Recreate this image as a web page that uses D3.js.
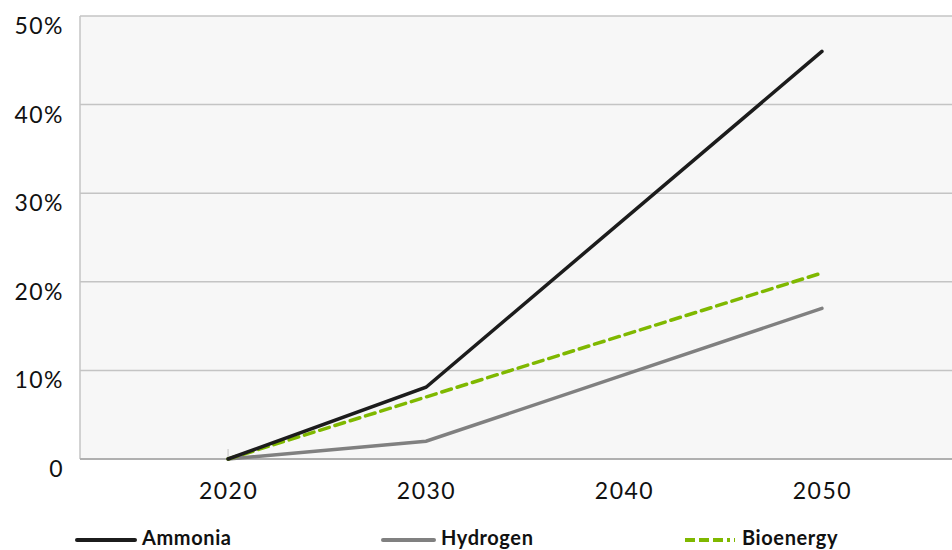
<!DOCTYPE html>
<html><head><meta charset="utf-8">
<script src="https://cdn.jsdelivr.net/npm/d3@7"></script>
<style>body{margin:0;background:#fff;}svg{display:block;}</style>
</head><body><svg id="c" width="952" height="550"></svg>
<script>
const years = [2020, 2030, 2050];
const ammonia = [0, 8.1, 46];
const hydrogen = [0, 2, 17];
const bioenergy = [0, 7, 21];
const xTicks = [2020, 2030, 2040, 2050];
const yTicks = [0, 10, 20, 30, 40, 50];
const seriesNames = ["Ammonia", "Hydrogen", "Bioenergy"];

const svg = d3.select("#c");
const L = 80, R = 952, T = 16, B = 459;
const x = d3.scaleLinear().domain([2012.52, 2056.57]).range([L, R]);
const y = d3.scaleLinear().domain([0, 50]).range([B, T]);
const FONT = "Lato, sans-serif";

svg.append("rect").attr("x", L).attr("y", T).attr("width", R - L).attr("height", B - T).attr("fill", "#f7f7f7");

svg.append("g").selectAll("line").data(yTicks.filter(d => d > 0)).join("line")
  .attr("x1", L).attr("x2", R).attr("y1", d => y(d)).attr("y2", d => y(d))
  .attr("stroke", "#c4c4c4").attr("stroke-width", 1.5);
svg.append("line").attr("x1", L).attr("x2", L).attr("y1", T).attr("y2", B).attr("stroke", "#c4c4c4").attr("stroke-width", 1.5);

svg.append("g").selectAll("text").data(yTicks).join("text")
  .attr("x", 64).attr("y", d => y(d) + 18).attr("text-anchor", "end")
  .attr("font-family", FONT).attr("font-size", 23).attr("letter-spacing", 1.5).attr("fill", "#111")
  .text(d => d === 0 ? "0" : d + "%");

const xa = d3.axisBottom(x).tickValues(xTicks).tickSize(0).tickPadding(24).tickFormat(d3.format("d"));
const gx = svg.append("g").attr("transform", `translate(0,${B})`).call(xa);
gx.select(".domain").remove();
gx.selectAll("text").attr("font-family", FONT).attr("font-size", 23).attr("letter-spacing", 1.5).attr("fill", "#111");
svg.append("line").attr("x1", L).attr("x2", R).attr("y1", B).attr("y2", B).attr("stroke", "#b0b0b0").attr("stroke-width", 2);
svg.append("line").attr("x1", x(2020)).attr("x2", x(2020)).attr("y1", B - 10).attr("y2", B).attr("stroke", "#c0c0c0").attr("stroke-width", 1);

const line = d3.line().x((d, i) => x(years[i])).y(d => y(d));
const styles = [
  {data: ammonia, color: "#1c1c1c", dash: null},
  {data: hydrogen, color: "#808080", dash: null},
  {data: bioenergy, color: "#7fb800", dash: "10,6"}
];
[1, 2, 0].forEach(i => {
  const s = styles[i];
  svg.append("path").attr("d", line(s.data)).attr("fill", "none")
    .attr("stroke", s.color).attr("stroke-width", 3.5).attr("stroke-linecap", "round").attr("stroke-linejoin", "miter")
    .attr("stroke-dasharray", s.dash);
});

const legX = [77, 383, 685];
const legW = [58, 51, 50];
seriesNames.forEach((n, i) => {
  const g = svg.append("g");
  g.append("line").attr("x1", legX[i]).attr("x2", legX[i] + legW[i]).attr("y1", 540).attr("y2", 540)
    .attr("stroke", styles[i].color).attr("stroke-width", 4).attr("stroke-linecap", i === 2 ? "butt" : "round")
    .attr("stroke-dasharray", i === 2 ? "10,4,10,4,10,4,3,4" : null);
  g.append("text").attr("x", legX[i] + legW[i] + 7).attr("y", 545).attr("font-family", FONT)
    .attr("font-weight", "bold").attr("font-size", 20).attr("letter-spacing", 0.6).attr("fill", "#111").text(n);
});
</script></body></html>
